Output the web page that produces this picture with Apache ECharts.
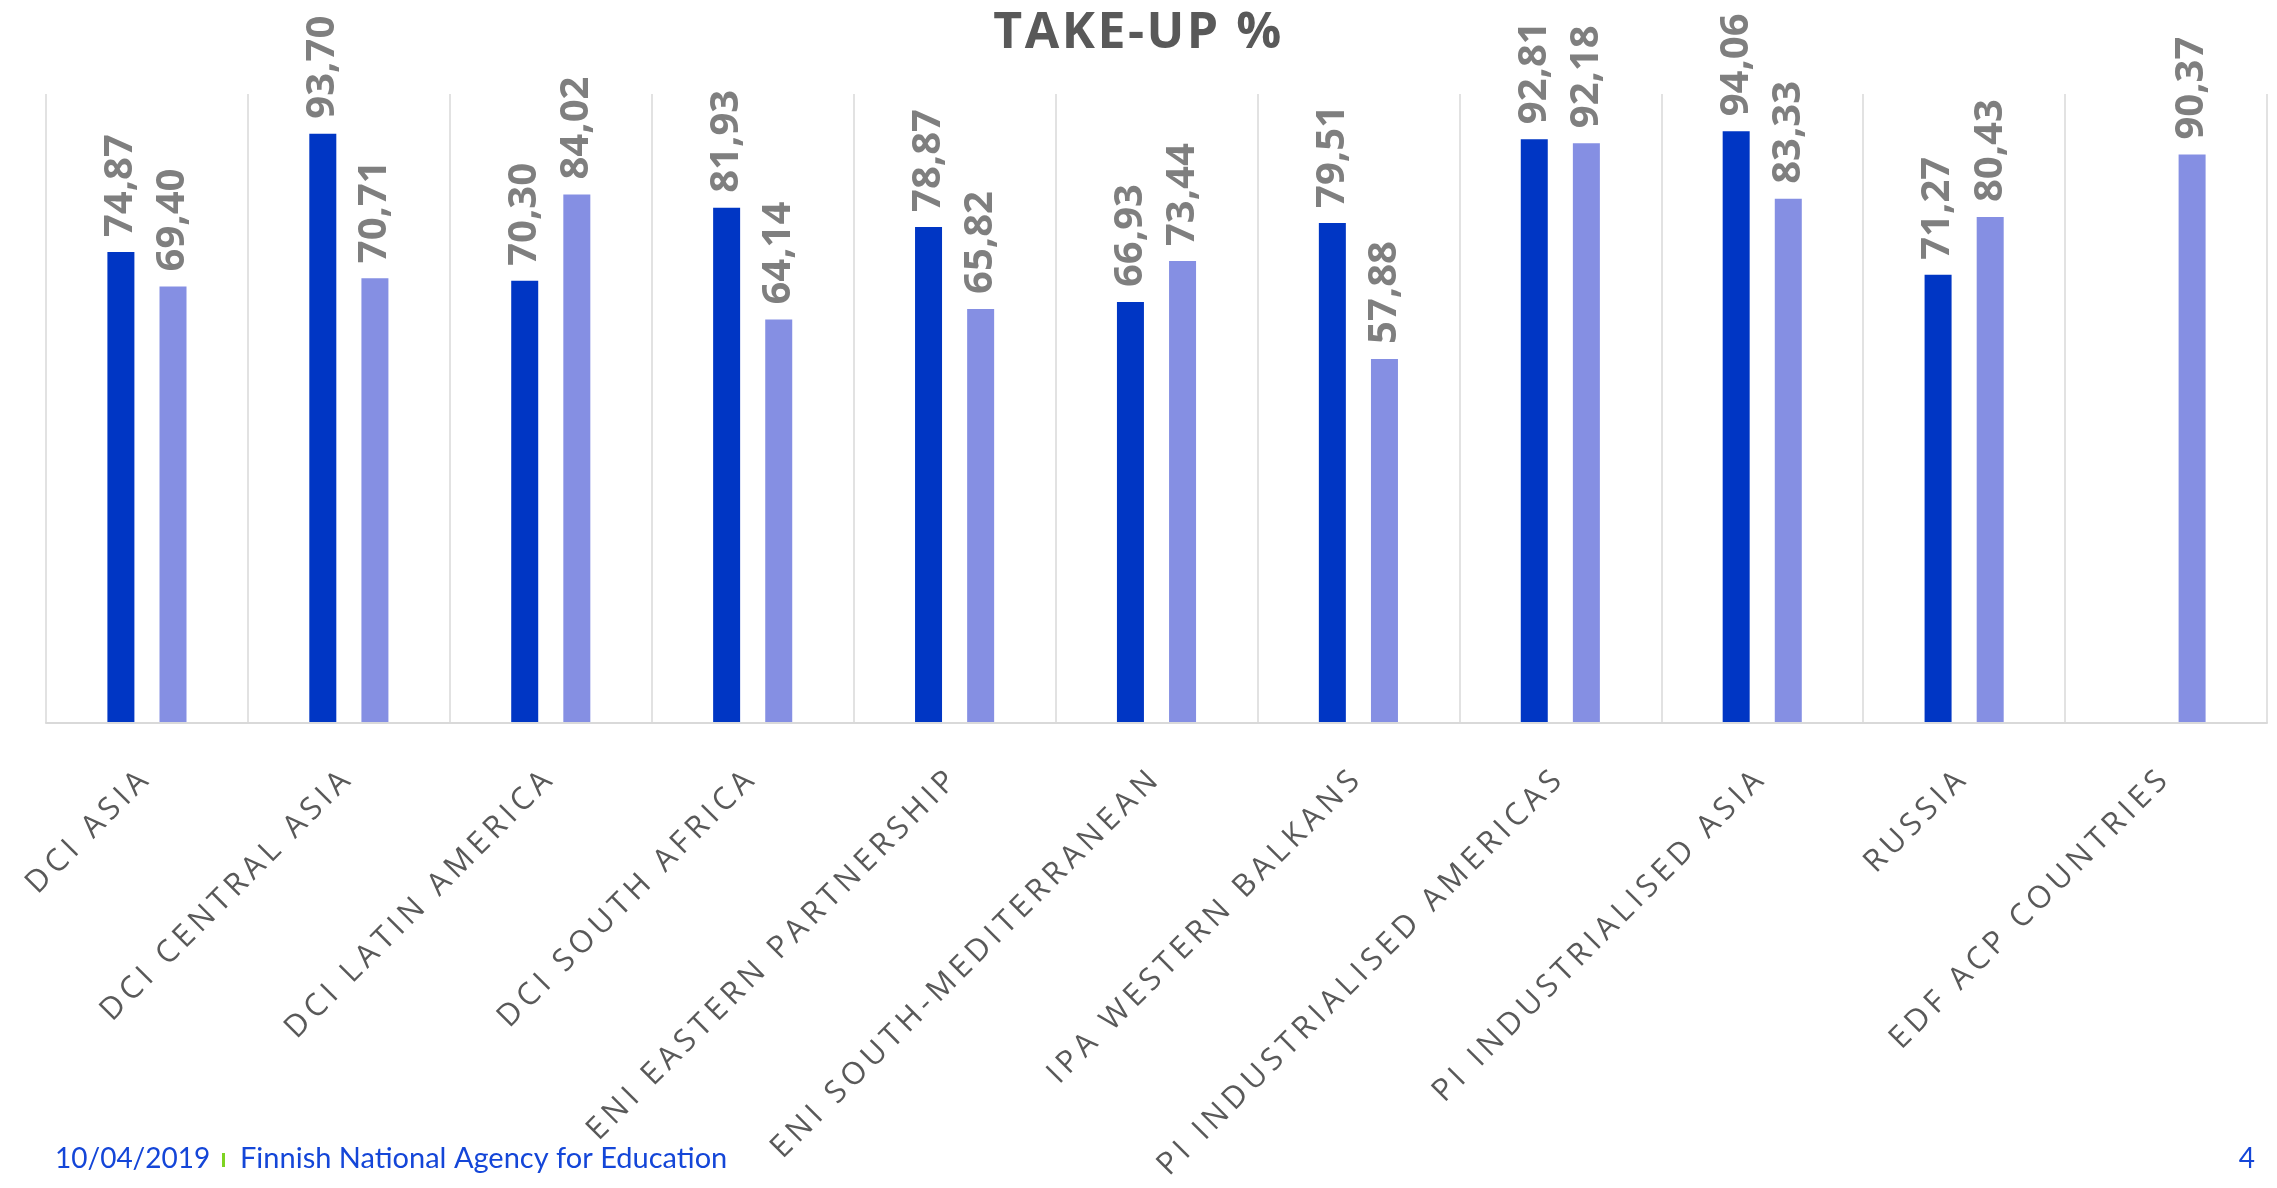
<!DOCTYPE html>
<html>
<head>
<meta charset="utf-8">
<script src="https://cdn.jsdelivr.net/npm/echarts@6/dist/echarts.min.js"></script>
<style>
html,body{margin:0;padding:0;background:#fff;}
#chart{width:2277px;height:1188px;}
</style>
</head>
<body>
<div id="chart"></div>
<script>
const categories = [
  'DCI ASIA', 'DCI CENTRAL ASIA', 'DCI LATIN AMERICA', 'DCI SOUTH AFRICA',
  'ENI EASTERN PARTNERSHIP', 'ENI SOUTH-MEDITERRANEAN', 'IPA WESTERN BALKANS',
  'PI INDUSTRIALISED AMERICAS', 'PI INDUSTRIALISED ASIA', 'RUSSIA', 'EDF ACP COUNTRIES'
];
const seriesA = [74.87, 93.70, 70.30, 81.93, 78.87, 66.93, 79.51, 92.81, 94.06, 71.27, null];
const seriesB = [69.40, 70.71, 84.02, 64.14, 65.82, 73.44, 57.88, 92.18, 83.33, 80.43, 90.37];
const titleText = 'TAKE-UP %';
const footerDate = '10/04/2019';
const footerOrg = 'Finnish National Agency for Education';
const pageNumber = '4';

const fmt = p => (p.value == null ? '' : Number(p.value).toFixed(2).replace('.', ','));
const labelCfg = {
  show: true, position: 'top', rotate: 90, align: 'left', verticalAlign: 'middle',
  distance: 15, formatter: fmt, color: '#7f7f7f', fontSize: 40, fontWeight: 'bold',
  fontFamily: 'Open Sans'
};

const option = {
  animation: false,
  backgroundColor: '#ffffff',
  title: {
    text: titleText, left: 'center', top: 4, zlevel: 2,
    textStyle: {fontFamily: 'Open Sans', fontWeight: 'bold', fontSize: 50, color: '#595959'}
  },
  grid: {left: 46, right: 10, top: 94, bottom: 465, containLabel: false},
  xAxis: {
    type: 'category', data: categories, zlevel: 1,
    axisLine: {show: true, lineStyle: {color: '#d9d9d9', width: 2}},
    axisTick: {show: false},
    splitLine: {show: true, lineStyle: {color: '#d9d9d9', width: 1.5}},
    axisLabel: {
      rotate: 45, interval: 0, margin: 50, color: '#595959',
      fontFamily: 'Open Sans', fontSize: 31
    }
  },
  yAxis: {
    type: 'value', min: 0, max: 100, show: false,
    splitLine: {show: false}
  },
  series: [
    {type: 'bar', name: 'A', data: seriesA, barWidth: 27, barGap: '93%',
     itemStyle: {color: '#0036c4'}, label: labelCfg},
    {type: 'bar', name: 'B', data: seriesB, barWidth: 27,
     itemStyle: {color: '#858fe3'}, label: labelCfg}
  ],
  graphic: [
    {type: 'text', left: 55, top: 1145,
     style: {text: footerDate, fill: '#1446d8', font: '28px Lato'}},
    {type: 'rect', left: 222, top: 1153, shape: {width: 3, height: 14},
     style: {fill: '#7ed321'}},
    {type: 'text', left: 240, top: 1144,
     style: {text: footerOrg, fill: '#1446d8', font: '29px Lato'}},
    {type: 'text', right: 22, top: 1145,
     style: {text: pageNumber, fill: '#1446d8', font: '28px Lato'}}
  ]
};

const chart = echarts.init(document.getElementById('chart'), null, {renderer: 'canvas'});
chart.setOption(option);
// spaced lettering for the category labels and the title (own canvas layers)
try {
  const painter = chart.getZr().painter;
  const axisLayer = painter.getLayer(1);
  const titleLayer = painter.getLayer(2);
  let changed = false;
  if (axisLayer && axisLayer.ctx && ('letterSpacing' in axisLayer.ctx)) {
    axisLayer.ctx.letterSpacing = '5px';
    changed = true;
  }
  if (titleLayer && titleLayer.ctx && ('letterSpacing' in titleLayer.ctx)) {
    titleLayer.ctx.letterSpacing = '2.5px';
    changed = true;
  }
  if (changed) chart.setOption(option, true);
} catch (e) {}
</script>
</body>
</html>
